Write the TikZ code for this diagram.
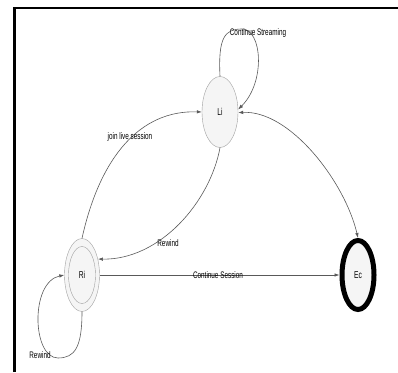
\documentclass[tikz,border=0pt]{standalone}
\usepackage{fontspec}
\newfontfamily\lblfont[FakeStretch=0.67]{Liberation Sans}
\usetikzlibrary{shapes.geometric, arrows.meta}

\begin{document}
\begin{tikzpicture}[x=1pt, y=1pt,
		state/.style={ellipse, draw=gray!75, fill=gray!8, minimum width=36, minimum height=71, inner sep=0pt, font=\lblfont\fontsize{10}{11}\selectfont},
		endstate/.style={ellipse, draw=black, line width=5pt, fill=gray!8, minimum width=37, minimum height=73, inner sep=0pt, font=\lblfont\fontsize{10}{11}\selectfont},
		edge/.style={draw=black!65, line width=0.6pt, -{Latex[length=5pt, width=3.5pt]}},
		lbl/.style={font=\lblfont\fontsize{9.5}{10}\selectfont, inner sep=0pt}]
		\useasboundingbox (0,0) rectangle (398,372);

		% frame
		\draw [line width=2.5pt] (14.5,0)--(14.5,364)--(398,364);

		% states
		\node [state] (li) at (220,260) {Li};
		\node [state, minimum width=35, minimum height=73] (ri) at (82,97) {};
		\node [state, fill=none, minimum width=27, minimum height=57] (ri-in) at (ri) {Ri};
		\node [endstate, minimum width=32, minimum height=69] (ec) at (358,97) {Ec};

		% transitions
		\draw [edge] (ri) -- (ec);
		\draw [edge] (ri.north) .. controls (100,215) and (140,262) .. (li.west);
		\draw [edge] (li.south) .. controls (210,170) and (160,112) .. (ri.45);
		\draw [edge, {Latex[length=5pt, width=3.5pt]}-{Latex[length=5pt, width=3.5pt]}] (li.-2) .. controls (290,262) and (345,190) .. (ec.north);
		\draw [edge] (li.north) .. controls (218,335) and (225,343) .. (242,343) .. controls (262,343) and (266,290) .. (li.8);
		\draw [edge] (ri.south) .. controls (82,25) and (75,14) .. (58,14) .. controls (32,14) and (30,90) .. (ri.west);

		% labels
		\node [lbl] (l-stream) at (258,339) {Continue Streaming};
		\node [lbl] (l-join) at (130,235) {join live session};
		\node [lbl] (l-rew) at (168,129) {Rewind};
		\node [lbl] (l-cont) at (218,97) {Continue Session};
		\node [lbl] (l-rew2) at (40,17) {Rewind};
	\end{tikzpicture}
\end{document}
